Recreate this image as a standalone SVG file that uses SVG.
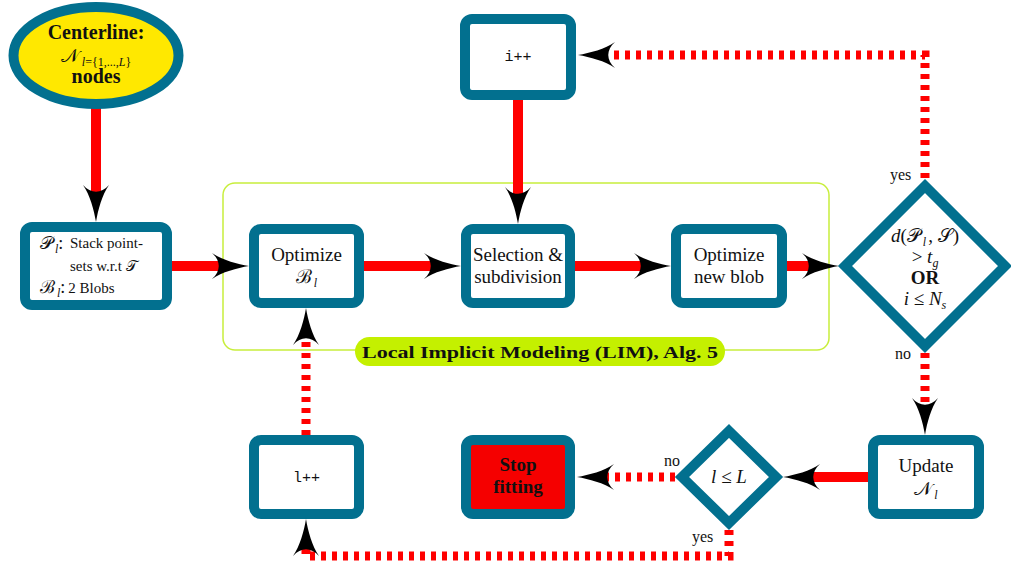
<svg xmlns="http://www.w3.org/2000/svg" width="1011" height="569" viewBox="0 0 1011 569">
<style>
.box{fill:#fff;stroke:#02708F;stroke-width:10}
.stop{fill:#F50000;stroke:#02708F;stroke-width:10}
.dia{fill:#fff;stroke:#02708F;stroke-width:10;stroke-linejoin:miter}
.solid{fill:none;stroke:#FF0000;stroke-width:10}
.dot{fill:none;stroke:#FF0000;stroke-width:9;stroke-dasharray:5 6}
.t{fill:#111;text-anchor:middle}
.b{font-weight:bold}
.m{font-style:italic}
.lbl{font-size:16px;fill:#111}
</style>
<defs>
<marker id="ah" viewBox="-40 -15 42 30" markerWidth="42" markerHeight="30" refX="-25" refY="0" orient="auto" markerUnits="userSpaceOnUse" overflow="visible">
<path d="M0,0 C-12,-2 -27,-6 -37,-13 C-28,-5 -28,5 -37,13 C-27,6 -12,2 0,0 Z" fill="#000"/>
</marker>
</defs>

<g id="lim">
<rect x="223" y="183" width="606" height="167" rx="12" fill="none" stroke="#C8EE3C" stroke-width="1.5"/>
<rect x="355" y="337" width="370" height="29" rx="14.5" fill="#C4F000"/>
<text class="t b" style="font-family:'Liberation Serif',serif" x="540" y="358" font-size="17" textLength="356" lengthAdjust="spacingAndGlyphs">Local Implicit Modeling (LIM), Alg. 5</text>
</g>

<g id="connectors">
<path class="solid" d="M96,108 V197" marker-end="url(#ah)"/>
<path class="solid" d="M172,266 H224" marker-end="url(#ah)"/>
<path class="solid" d="M364,266 H436" marker-end="url(#ah)"/>
<path class="solid" d="M575,266 H646" marker-end="url(#ah)"/>
<path class="solid" d="M787,266 H814" marker-end="url(#ah)"/>
<path class="solid" d="M518,100 V199" marker-end="url(#ah)"/>
<path class="dot" d="M925,178 V55 H603" marker-end="url(#ah)"/>
<path class="dot" d="M925,353 V410" marker-end="url(#ah)"/>
<path class="solid" d="M868,477 H808" marker-end="url(#ah)"/>
<path class="dot" d="M675,477 H602" marker-end="url(#ah)"/>
<path class="dot" d="M729,530 V556 H306 V544" marker-end="url(#ah)"/>
<path class="dot" d="M306,435 V333" marker-end="url(#ah)"/>
</g>

<g id="centerline">
<ellipse cx="96" cy="55.5" rx="82.5" ry="48.5" fill="#FFE800" stroke="#02708F" stroke-width="10"/>
<text class="t b" style="font-family:'Liberation Serif',serif" x="96" y="39" font-size="20">Centerline:</text>
<text class="t" style="font-family:'Liberation Serif',serif" x="96" y="62" font-size="19"><tspan style="font-family:'DejaVu Serif',serif">𝒩</tspan><tspan font-size="12" dy="4" dx="3"><tspan class="m">l</tspan>={1,...,<tspan class="m">L</tspan>}</tspan></text>
<text class="t b" style="font-family:'Liberation Serif',serif" x="96" y="83" font-size="20">nodes</text>
</g>

<g id="init">
<rect class="box" x="25" y="227" width="142" height="78" rx="7"/>
<text style="font-family:'Liberation Serif',serif" x="40" y="249" font-size="18" fill="#111"><tspan style="font-family:'DejaVu Serif',serif">𝒫</tspan><tspan class="m" font-size="12" dy="4" dx="2">l</tspan><tspan dy="-4">:</tspan></text>
<text style="font-family:'Liberation Serif',serif" x="70" y="248" font-size="15" fill="#111">Stack point-</text>
<text style="font-family:'Liberation Serif',serif" x="70" y="271" font-size="15" fill="#111">sets w.r.t <tspan style="font-family:'DejaVu Serif',serif">𝒯</tspan></text>
<text style="font-family:'Liberation Serif',serif" x="40" y="293" font-size="18" fill="#111"><tspan style="font-family:'DejaVu Serif',serif">ℬ</tspan><tspan class="m" font-size="12" dy="4" dx="2">l</tspan><tspan dy="-4">:</tspan><tspan font-size="15" dx="3">2 Blobs</tspan></text>
</g>

<g id="optB">
<rect class="box" x="254" y="229" width="105" height="74" rx="7"/>
<text class="t" style="font-family:'Liberation Serif',serif" x="306.5" y="261" font-size="19">Optimize</text>
<text class="t" style="font-family:'Liberation Serif',serif" x="306.5" y="283" font-size="19"><tspan style="font-family:'DejaVu Serif',serif">ℬ</tspan><tspan class="m" font-size="12" dy="4" dx="2">l</tspan></text>
</g>

<g id="select">
<rect class="box" x="466" y="229" width="104" height="74" rx="7"/>
<text class="t" style="font-family:'Liberation Serif',serif" x="518" y="261" font-size="19">Selection &amp;</text>
<text class="t" style="font-family:'Liberation Serif',serif" x="518" y="283" font-size="19">subdivision</text>
</g>

<g id="optNew">
<rect class="box" x="676" y="229" width="106" height="74" rx="7"/>
<text class="t" style="font-family:'Liberation Serif',serif" x="729" y="261" font-size="19">Optimize</text>
<text class="t" style="font-family:'Liberation Serif',serif" x="729" y="283" font-size="19">new blob</text>
</g>

<g id="iinc">
<rect class="box" x="465" y="19" width="106" height="76" rx="7"/>
<text class="t" style="font-family:'Liberation Mono',monospace" x="518" y="61" font-size="15">i++</text>
</g>

<g id="cond1">
<path class="dia" d="M925,186 L1005,266 L925,346 L845,266 Z"/>
<text class="t" style="font-family:'Liberation Serif',serif" x="925" y="242" font-size="19"><tspan class="m">d</tspan>(<tspan style="font-family:'DejaVu Serif',serif">𝒫</tspan><tspan class="m" font-size="12" dy="4" dx="2">l</tspan><tspan dy="-4" dx="2">, </tspan><tspan style="font-family:'DejaVu Serif',serif">𝒮</tspan>)</text>
<text class="t" style="font-family:'Liberation Serif',serif" x="925" y="263" font-size="19">&gt; <tspan class="m">t</tspan><tspan class="m" font-size="12" dy="4">g</tspan></text>
<text class="t b" style="font-family:'Liberation Serif',serif" x="925" y="284" font-size="19">OR</text>
<text class="t" style="font-family:'Liberation Serif',serif" x="925" y="305" font-size="19"><tspan class="m">i</tspan> ≤ <tspan class="m">N</tspan><tspan class="m" font-size="12" dy="4">s</tspan></text>
<text class="lbl" style="font-family:'Liberation Serif',serif" x="890" y="180">yes</text>
<text class="lbl" style="font-family:'Liberation Serif',serif" x="895" y="359">no</text>
</g>

<g id="update">
<rect class="box" x="873" y="440" width="106" height="74" rx="7"/>
<text class="t" style="font-family:'Liberation Serif',serif" x="926" y="472" font-size="19">Update</text>
<text class="t" style="font-family:'Liberation Serif',serif" x="926" y="495" font-size="19"><tspan style="font-family:'DejaVu Serif',serif">𝒩</tspan><tspan class="m" font-size="12" dy="4" dx="2">l</tspan></text>
</g>

<g id="cond2">
<path class="dia" d="M729,431 L776,477 L729,523 L682,477 Z"/>
<text class="t" style="font-family:'Liberation Serif',serif" x="729" y="483" font-size="19"><tspan class="m">l</tspan> ≤ <tspan class="m">L</tspan></text>
<text class="lbl" style="font-family:'Liberation Serif',serif" x="664" y="466">no</text>
<text class="lbl" style="font-family:'Liberation Serif',serif" x="692" y="542">yes</text>
</g>

<g id="stop">
<rect class="stop" x="466" y="440" width="104" height="74" rx="7"/>
<text class="t b" style="font-family:'Liberation Serif',serif" x="518" y="471" font-size="19">Stop</text>
<text class="t b" style="font-family:'Liberation Serif',serif" x="518" y="493" font-size="19">fitting</text>
</g>

<g id="linc">
<rect class="box" x="254" y="440" width="105" height="74" rx="7"/>
<text class="t" style="font-family:'Liberation Mono',monospace" x="306.5" y="482" font-size="15">l++</text>
</g>
</svg>
